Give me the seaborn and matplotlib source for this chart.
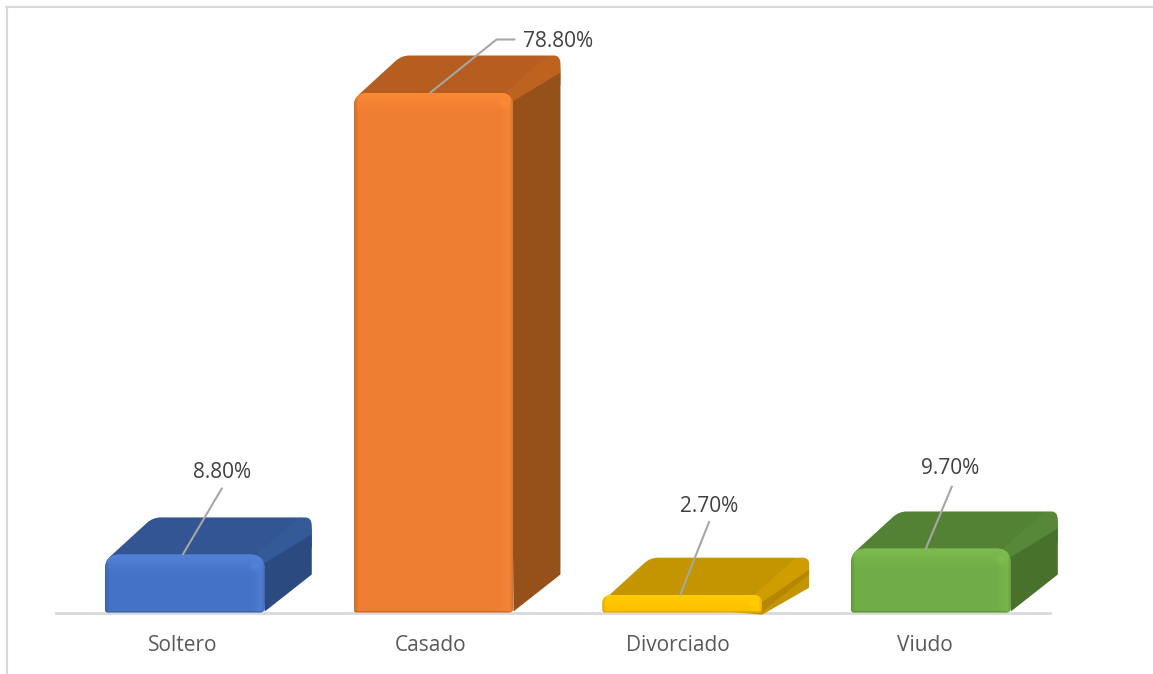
import matplotlib
matplotlib.use("Agg")
import matplotlib.pyplot as plt
import seaborn as sns
import pandas as pd
from matplotlib.path import Path
from matplotlib.patches import PathPatch, Rectangle, Circle
from matplotlib.transforms import IdentityTransform, Affine2D
from matplotlib.lines import Line2D

categories = ["Soltero", "Casado", "Divorciado", "Viudo"]
values = [8.8, 78.8, 2.7, 9.7]
labels = ["8.80%", "78.80%", "2.70%", "9.70%"]
front_colors = ["#4472C4", "#ED7D31", "#FFC000", "#70AD47"]
bevel_colors = ["#5585DC", "#FF8B38", "#FFD000", "#80BF52"]
top_colors = ["#335593", "#B65E1F", "#C49500", "#548235"]
band_colors = ["#355A98", "#BD631F", "#D09D00", "#578738"]
side_colors = ["#2B4A80", "#96511B", "#B58600", "#48722B"]
leader_offsets = [[(-2, 0), (37, 66)], [(-3, 0), (63, 53), (81, 53)], [(-2, 0), (27, 73)], [(-5, 0), (21, 62)]]
label_offsets = [(37, 82), (125, 51), (27, 88), (19, 80)]
tick_shifts = [-2, -3, -4, -6]

W, H = 1153, 674
sns.set_theme(style="white")
plt.rcParams["font.family"] = ["Open Sans", "DejaVu Sans"]
fig = plt.figure(figsize=(W / 100, H / 100), dpi=100)
BASE = H - 612.5
ax = fig.add_axes([56 / W, BASE / H, (1050 - 56) / W, (612.5 - 7) / H])

df = pd.DataFrame({"estado": categories, "pct": values})
sns.barplot(data=df, x="estado", y="pct", hue="estado", palette=front_colors,
            saturation=1, width=0.643, legend=False, ax=ax, zorder=4)
ax.set_xlim(-0.518, 3.479)
ax.set_ylim(0, (612.5 - 7) / (520 / 78.8))
ax.set_xlabel("")
ax.set_ylabel("")
ax.set_yticks([])
ax.tick_params(axis="x", length=0, pad=16, labelsize=15, labelcolor="#595959")
for lab, shift in zip(ax.get_xticklabels(), tick_shifts):
    lab.set_transform(lab.get_transform() + Affine2D().translate(shift, 0))
for s in ["left", "top", "right"]:
    ax.spines[s].set_visible(False)
ax.spines["bottom"].set_color("#D9D9D9")
ax.spines["bottom"].set_linewidth(2)
ax.spines["bottom"].set_zorder(1)
ax.patch.set_alpha(0)

ID = IdentityTransform()


def rounded(points, radii):
    """Closed polygon with quadratic rounded corners (pixels)."""
    verts, codes = [], []
    n = len(points)
    for i, (p, r) in enumerate(zip(points, radii)):
        a, b = points[i - 1], points[(i + 1) % n]
        def toward(q):
            dx, dy = q[0] - p[0], q[1] - p[1]
            d = (dx * dx + dy * dy) ** 0.5
            t = min(r, d / 2) / d if d else 0
            return (p[0] + dx * t, p[1] + dy * t)
        verts += [toward(a), p, toward(b)]
        codes += [Path.MOVETO if i == 0 else Path.LINETO, Path.CURVE3, Path.CURVE3]
    verts.append(verts[0])
    codes.append(Path.CLOSEPOLY)
    return Path(verts, codes)


DX, DY = 47, 37
for i, bar in enumerate(ax.patches):
    (x0, y0) = ax.transData.transform((bar.get_x(), 0))
    (x1, y1) = ax.transData.transform((bar.get_x() + bar.get_width(), bar.get_height()))
    y0 += 1
    h = y1 - y0
    r = min(15, h * 0.6)
    # top face
    top = rounded([(x0 + 1, y1 - 6), (x0 + DX + 1, y1 + DY), (x1 + DX, y1 + DY), (x1 + DX, y1 + DY - 30),
                   (x1, y1 - 20)], [6, 8, 16, 1, 1])
    ax.add_patch(PathPatch(top, fc=top_colors[i], ec="none", transform=ID, clip_on=False, zorder=2))
    # side face
    cut_back = min(17, h * 0.6 + 2)
    cut_front = min(11, h * 0.6)
    side = Path([(x1 - 4, y1 - cut_front), (x1 + DX, y1 + DY - cut_back), (x1 + DX, y0 + DY), (x1, y0),
                 (x1 - 4, y1 - cut_front)],
                [Path.MOVETO, Path.LINETO, Path.LINETO, Path.LINETO, Path.CLOSEPOLY])
    # bevel between top and side
    band = rounded([(x1 - 9, y1 - 1), (x1 + DX - 13, y1 + DY), (x1 + DX, y1 + DY), (x1 + DX, y1 + DY - cut_back),
                    (x1 - 2, y1 - cut_front)], [1, 1, 16, 1, 1])
    ax.add_patch(PathPatch(band, fc=band_colors[i], ec="none", transform=ID, clip_on=False, zorder=2.2))
    ax.add_patch(PathPatch(side, fc=side_colors[i], ec="none", transform=ID, clip_on=False, zorder=2.4))

    # rounded front face: the seaborn bar clipped to a rounded outline
    front = rounded([(x0, y0 - 1), (x0, y1), (x1, y1), (x1, y0 - 1)], [3, r, r, 5])
    bar.set_clip_path(front, ID)
    bar.set_edgecolor("none")

    def overlay(x, y, w, hh, color, alpha):
        rect = Rectangle((x, y), w, hh, fc=color, ec="none", alpha=alpha, transform=ID, zorder=4.2)
        ax.add_patch(rect)
        rect.set_clip_path(front, ID)

    steps = 12
    bh = min(20, h * 0.75)
    for k in range(steps):
        a = 0.8 * (1 - k / steps)
        overlay(x0, y1 - (k + 1) * bh / steps, x1 - x0, bh / steps, bevel_colors[i], a)
    bw = 15
    for k in range(steps):
        a = 0.6 * (1 - k / steps)
        overlay(x1 - (k + 1) * bw / steps, y0 - 1, bw / steps, h, bevel_colors[i], a)
    for k in range(4):
        overlay(x0 + k, y0 - 1, 1, h, side_colors[i], 0.35 * (1 - k / 4))
    overlay(x0, y0 - 1, x1 - x0, 1.5, side_colors[i], 0.35)
    for k in range(3):
        overlay(x1 - k - 1, y0 - 1, 1, h, side_colors[i], 0.3 * (1 - k / 3))
    for k, (rad, al) in enumerate(zip([5, 3.5, 2], [0.3, 0.4, 0.6])):
        glow = Circle((x1 - 10, y1 - min(11, h * 0.5)), min(rad, h * 0.2), fc=bevel_colors[i], ec="none",
                      transform=ID, zorder=4.4, alpha=al)
        ax.add_patch(glow)

    # leader line and value label
    xc = (x0 + x1) / 2
    leader = leader_offsets[i]
    ax.add_line(Line2D([xc + p[0] for p in leader], [y1 + p[1] for p in leader], color="#A6A6A6", lw=1.5,
                       transform=ID, clip_on=False, zorder=5))
    lx, ly = label_offsets[i]
    ax.text(xc + lx, y1 + ly, labels[i], transform=ID, ha="center", va="center",
            fontsize=15, color="#404040", zorder=6)

# chart frame (top and left edges)
fig.add_artist(Line2D([7 / W, 7 / W], [0, 1 - 7 / H], color="#D9D9D9", lw=1.5, transform=fig.transFigure))
fig.add_artist(Line2D([6 / W, 1], [1 - 7 / H, 1 - 7 / H], color="#D9D9D9", lw=1.5, transform=fig.transFigure))

fig.savefig("out.png", dpi=100, facecolor="white")
